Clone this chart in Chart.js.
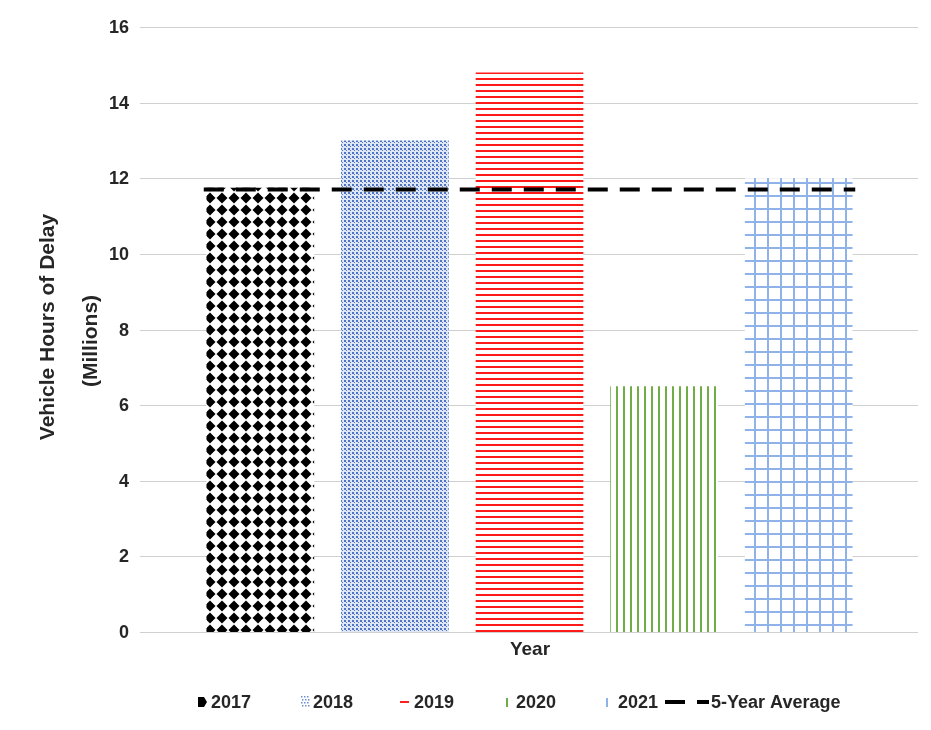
<!DOCTYPE html>
<html><head><meta charset="utf-8">
<script src="https://cdn.jsdelivr.net/npm/chart.js@4"></script>
<style>html,body{margin:0;background:#fff;overflow:hidden}#w{position:relative;width:931px;height:730px}</style>
</head><body><div id="w"><canvas id="c"></canvas></div>
<script>
const years = ['2017','2018','2019','2020','2021'];
const delay = [11.75, 13.0, 14.8, 6.5, 12.0];
const average = 11.7;
const avgLabel = '5-Year Average';
const yTicks = [0,2,4,6,8,10,12,14,16];
const yTitle = ['Vehicle Hours of Delay','(Millions)'];
const xTitle = 'Year';
const FONT='Liberation Sans, Arial';

function pat(kind){
  const c=document.createElement('canvas');const x=c.getContext('2d');
  if(kind==='diamond'){c.width=c.height=12;x.fillStyle='#fff';x.fillRect(0,0,12,12);x.fillStyle='#000';
    x.beginPath();x.moveTo(6,0.5);x.lineTo(11.5,6);x.lineTo(6,11.5);x.lineTo(0.5,6);x.closePath();x.fill();}
  else if(kind==='dots'){c.width=c.height=4;x.fillStyle='#dfe7f5';x.fillRect(0,0,4,4);x.fillStyle='#4f74c4';x.fillRect(0,0,2,2);x.fillRect(2,2,1,1);}
  else if(kind==='hline'){c.width=c.height=6;x.fillStyle='#fff';x.fillRect(0,0,6,6);x.fillStyle='#ff1a1a';x.fillRect(0,0,6,2);}
  else if(kind==='vline'){c.width=c.height=7;x.fillStyle='#fff';x.fillRect(0,0,7,7);x.fillStyle='#70ad47';x.fillRect(0,0,2,7);}
  else if(kind==='grid'){c.width=c.height=13;x.fillStyle='#fff';x.fillRect(0,0,13,13);x.fillStyle='#8fb3e8';x.fillRect(0,0,2,13);x.fillRect(0,0,13,2);}
  return x.createPattern(c,'repeat');
}
const kinds=['diamond','dots','hline','vline','grid'];
const pats=kinds.map(pat);

const gridPlugin={id:'g',beforeDatasetsDraw(ch){
  const y=ch.scales.y,x=ch.ctx;x.save();x.strokeStyle='#d0d0d0';x.lineWidth=1;
  x.fillStyle='#262626';x.font='bold 18px '+FONT;x.textAlign='right';x.textBaseline='middle';
  yTicks.forEach(t=>{const py=Math.round(y.getPixelForValue(t))+0.5;x.beginPath();x.moveTo(140,py);x.lineTo(918,py);x.stroke();
    x.fillText(String(t),129,py+1);});
  // axis titles
  x.textAlign='center';x.font='bold 21px '+FONT;
  x.save();x.translate(48,327);x.rotate(-Math.PI/2);x.fillText(yTitle[0],0,0);x.restore();
  x.save();x.translate(91,341);x.rotate(-Math.PI/2);x.fillText(yTitle[1],0,0);x.restore();
  x.font='bold 19px '+FONT;x.fillText(xTitle,530,650);
  x.restore();}};

const legendPlugin={id:'lg',afterDraw(ch){
  const x=ch.ctx,cy=702;x.save();
  x.font='bold 18px '+FONT;x.textBaseline='middle';x.textAlign='left';
  const textX=[211,313,414,516,618];
  x.fillStyle='#000';x.beginPath();x.moveTo(198,cy-5);x.lineTo(204,cy-5);x.lineTo(207,cy);x.lineTo(204,cy+5);x.lineTo(198,cy+5);x.closePath();x.fill();
  x.fillStyle='#6d8fd6';for(let i=0;i<3;i++)for(let j=0;j<4;j++)x.fillRect(301+i*3+(j%2),cy-6+j*3,1.5,1.5);
  x.fillStyle='#ff2020';x.fillRect(400,cy-1,9,2);
  x.fillStyle='#70ad47';x.fillRect(506,cy-4,2,9);
  x.fillStyle='#8fb3e8';x.fillRect(606,cy-4,2,9);
  x.fillStyle='#000';x.fillRect(665,cy-2,20,4);x.fillRect(697,cy-2,12,4);
  x.fillStyle='#262626';
  years.forEach((yr,i)=>x.fillText(yr,textX[i],cy+1));
  x.fillText(avgLabel,711,cy+1);
  x.restore();}};

new Chart(document.getElementById('c'),{
  data:{labels:years,datasets:[
    ...years.map((yr,i)=>({type:'bar',label:yr,data:years.map((_,j)=>j===i?delay[i]:null),
      backgroundColor:pats[i],borderWidth:0,barPercentage:0.8,categoryPercentage:1,skipNull:true,grouped:false,order:2})),
    {type:'line',label:avgLabel,xAxisID:'x2',data:[{x:-0.42,y:average},{x:4.42,y:average}],
      borderColor:'#000',borderWidth:4,borderDash:[20,12],pointRadius:0,order:1}
  ]},
  options:{responsive:true,maintainAspectRatio:false,animation:false,
    layout:{padding:{left:193,right:65,top:27,bottom:98}},
    scales:{
      x:{type:'category',display:false},
      x2:{type:'linear',min:-0.5,max:4.5,display:false},
      y:{min:0,max:16,display:false,afterBuildTicks(s){s.ticks=yTicks.map(v=>({value:v}));}}
    },
    plugins:{tooltip:{enabled:false},legend:{display:false}}
  },
  plugins:[gridPlugin,legendPlugin]
});
</script></body></html>
